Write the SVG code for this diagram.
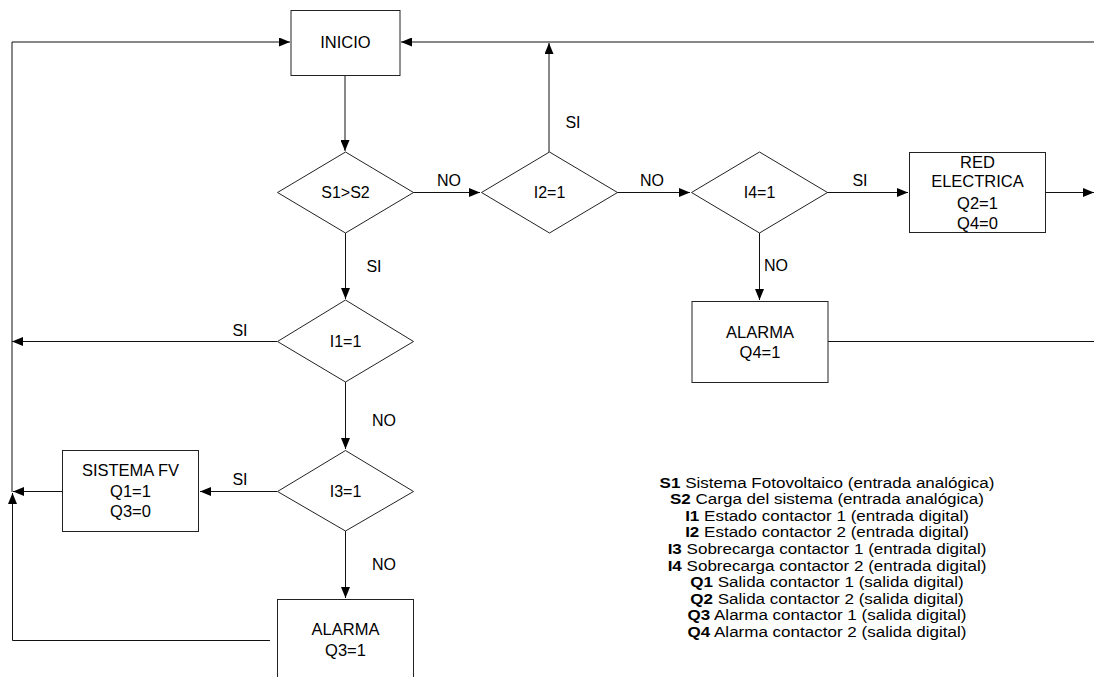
<svg xmlns="http://www.w3.org/2000/svg" width="1094" height="677" viewBox="0 0 1094 677">
<defs>
<marker id="ah" markerUnits="userSpaceOnUse" markerWidth="11" markerHeight="9" refX="11" refY="4.5" orient="auto">
<path d="M0,0 L11,4.5 L0,9 z" fill="#000"/>
</marker>
<style>
.n{fill:#fff;stroke:#222;stroke-width:1}
.t{font-family:"Liberation Sans",Arial,sans-serif;font-size:16.5px;fill:#000;text-anchor:middle}
.d{font-family:"Liberation Sans",Arial,sans-serif;font-size:16px;fill:#000;text-anchor:middle}
.l{font-family:"Liberation Sans",Arial,sans-serif;font-size:16px;fill:#000;text-anchor:middle}
.c{fill:none;stroke:#111;stroke-width:1}
.a{marker-end:url(#ah)}
.g{font-family:"Liberation Sans",Arial,sans-serif;font-size:14.5px;fill:#000;text-anchor:middle}
.g tspan.b{font-weight:bold}
</style>
</defs>
<rect width="1094" height="677" fill="#fff"/>
<g id="connectors">
<path class="c a" d="M12,492 V42 H290"/>
<path class="c a" d="M1094,42 H401"/>
<path class="c a" d="M345,75 V151"/>
<path class="c a" d="M413,192.5 H480"/>
<path class="c a" d="M549,152 V43"/>
<path class="c a" d="M617,192.5 H690"/>
<path class="c a" d="M827,192.5 H908"/>
<path class="c a" d="M1045,192.5 H1094"/>
<path class="c a" d="M759.5,233 V300"/>
<path class="c" d="M828,341.5 H1094"/>
<path class="c a" d="M345.5,233 V299"/>
<path class="c a" d="M277,341.5 H12"/>
<path class="c a" d="M345.5,382 V449"/>
<path class="c a" d="M277,491.5 H200"/>
<path class="c a" d="M62,491.5 H13"/>
<path class="c a" d="M345.5,531 V598"/>
<path class="c a" d="M270,640.5 H12.5 V493"/>
<text class="l" x="449" y="186">NO</text>
<text class="l" x="573" y="128">SI</text>
<text class="l" x="652" y="186">NO</text>
<text class="l" x="860" y="186">SI</text>
<text class="l" x="776" y="271">NO</text>
<text class="l" x="374" y="272">SI</text>
<text class="l" x="240" y="336">SI</text>
<text class="l" x="384" y="426">NO</text>
<text class="l" x="240" y="485">SI</text>
<text class="l" x="384" y="570">NO</text>
</g>
<g id="inicio">
<rect class="n" x="291" y="10.5" width="109" height="65"/>
<text class="t" x="345.5" y="48">INICIO</text>
</g>
<g id="s1s2">
<polygon class="n" points="345.5,152 413.5,192.5 345.5,233 277.5,192.5"/>
<text class="d" x="345.5" y="198">S1&gt;S2</text>
</g>
<g id="i2">
<polygon class="n" points="549.5,152 617.5,192.5 549.5,233 481.5,192.5"/>
<text class="d" x="549.5" y="198">I2=1</text>
</g>
<g id="i4">
<polygon class="n" points="759.5,152 827.5,192.5 759.5,233 691.5,192.5"/>
<text class="d" x="759.5" y="198">I4=1</text>
</g>
<g id="red">
<rect class="n" x="909.5" y="152.5" width="136" height="80"/>
<text class="t" x="977.5" y="168">RED</text>
<text class="t" x="977.5" y="187">ELECTRICA</text>
<text class="t" x="977.5" y="209">Q2=1</text>
<text class="t" x="977.5" y="229">Q4=0</text>
</g>
<g id="alarma4">
<rect class="n" x="692" y="301.5" width="136" height="81"/>
<text class="t" x="760" y="338">ALARMA</text>
<text class="t" x="760" y="358">Q4=1</text>
</g>
<g id="i1">
<polygon class="n" points="345.5,300 413.5,341.5 345.5,382 277.5,341.5"/>
<text class="d" x="345.5" y="347">I1=1</text>
</g>
<g id="i3">
<polygon class="n" points="345.5,450.5 413.5,491.5 345.5,531 277.5,491.5"/>
<text class="d" x="345.5" y="497">I3=1</text>
</g>
<g id="sistemafv">
<rect class="n" x="62.5" y="450.5" width="136" height="81"/>
<text class="t" x="130.5" y="476">SISTEMA FV</text>
<text class="t" x="130.5" y="497">Q1=1</text>
<text class="t" x="130.5" y="517">Q3=0</text>
</g>
<g id="alarma3">
<rect class="n" x="277.5" y="599.5" width="136" height="100"/>
<text class="t" x="345.5" y="635">ALARMA</text>
<text class="t" x="345.5" y="656">Q3=1</text>
</g>
<g id="leyenda">
<text class="g" transform="translate(827,487.5) scale(1.175,1)"><tspan class="b">S1</tspan> Sistema Fotovoltaico (entrada analógica)</text>
<text class="g" transform="translate(827,504.1) scale(1.175,1)"><tspan class="b">S2</tspan> Carga del sistema (entrada analógica)</text>
<text class="g" transform="translate(827,520.7) scale(1.175,1)"><tspan class="b">I1</tspan> Estado contactor 1 (entrada digital)</text>
<text class="g" transform="translate(827,537.3) scale(1.175,1)"><tspan class="b">I2</tspan> Estado contactor 2 (entrada digital)</text>
<text class="g" transform="translate(827,553.9) scale(1.175,1)"><tspan class="b">I3</tspan> Sobrecarga contactor 1 (entrada digital)</text>
<text class="g" transform="translate(827,570.5) scale(1.175,1)"><tspan class="b">I4</tspan> Sobrecarga contactor 2 (entrada digital)</text>
<text class="g" transform="translate(827,587.1) scale(1.175,1)"><tspan class="b">Q1</tspan> Salida contactor 1 (salida digital)</text>
<text class="g" transform="translate(827,603.7) scale(1.175,1)"><tspan class="b">Q2</tspan> Salida contactor 2 (salida digital)</text>
<text class="g" transform="translate(827,620.3) scale(1.175,1)"><tspan class="b">Q3</tspan> Alarma contactor 1 (salida digital)</text>
<text class="g" transform="translate(827,636.9) scale(1.175,1)"><tspan class="b">Q4</tspan> Alarma contactor 2 (salida digital)</text>
</g>
</svg>
